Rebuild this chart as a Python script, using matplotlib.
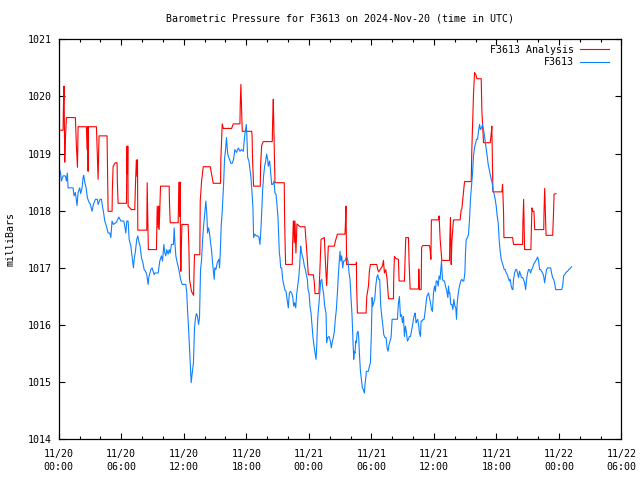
import numpy as np
import matplotlib
matplotlib.use("Agg")
from matplotlib import pyplot as plt
from matplotlib.ticker import MultipleLocator

# Hours since 2024-11-20 00:00 UTC
analysis_hours = [
    0.0, 0.42, 0.45, 0.51, 0.58, 0.64, 0.74, 1.6, 1.7, 1.8, 1.86, 2.66, 2.72, 2.78, 2.82, 2.85,
    3.62, 3.71, 3.78, 3.87, 4.64, 4.69, 4.74, 5.12, 5.15, 5.22, 5.35, 5.44, 5.6, 5.63, 5.7,
    6.5, 6.55, 6.6, 6.63, 6.66, 6.98, 7.3, 7.36, 7.45, 7.52, 7.56, 7.59, 8.45, 8.49, 8.55, 8.6,
    9.38, 9.42, 9.45, 9.55, 9.6, 9.64, 9.77, 10.6, 10.63, 10.7, 11.46, 11.5, 11.56, 11.62, 11.66,
    11.68, 11.72, 11.82, 12.42, 12.49, 12.55, 12.74, 12.94, 12.98, 13.03, 13.54, 13.58, 13.71,
    13.87, 14.54, 14.67, 14.83, 15.53, 15.56, 15.69, 15.79, 16.59, 16.75, 17.39, 17.42, 17.48,
    17.55, 17.61, 18.51, 18.55, 18.6, 18.7, 19.34, 19.37, 19.47, 19.63, 20.49, 20.53, 20.59,
    20.68, 20.75, 21.64, 21.68, 21.77, 22.41, 22.45, 22.51, 22.55, 22.6, 22.67, 22.76, 22.86,
    23.15, 23.63, 23.79, 23.95, 24.43, 24.53, 24.59, 24.97, 25.07, 25.17, 25.49, 25.58, 25.71,
    25.87, 26.45, 26.55, 26.74, 27.47, 27.52, 27.56, 27.63, 28.53, 28.57, 28.59, 28.66, 29.49,
    29.56, 29.72, 29.81, 29.91, 30.52, 30.61, 30.71, 30.84, 31.06, 31.16, 31.25, 31.38, 31.51,
    31.64, 32.12, 32.15, 32.21, 32.37, 32.6, 32.66, 33.17, 33.24, 33.3, 33.56, 33.62, 33.72,
    34.52, 34.55, 34.62, 34.78, 34.82, 34.9, 35.58, 35.64, 35.71, 35.76, 36.44, 36.5, 36.6,
    36.76, 37.5, 37.53, 37.59, 37.66, 37.72, 37.88, 38.52, 38.61, 38.68, 38.94, 39.58, 39.64,
    39.8, 39.9, 40.03, 40.12, 40.54, 40.6, 40.76, 41.4, 41.5, 41.56, 41.66, 42.52, 42.59, 42.68,
    42.72, 43.55, 43.64, 44.51, 44.54, 44.61, 44.65, 44.7, 45.31, 45.35, 45.41, 45.48, 45.6,
    45.67, 46.54, 46.57, 46.63, 46.7, 46.76, 47.4, 47.47, 47.53, 47.72,
]
analysis_mb = [
    1019.41, 1019.41, 1019.79, 1020.18, 1018.85, 1019.25, 1019.63, 1019.63, 1019.13, 1018.76,
    1019.47, 1019.47, 1019.07, 1019.47, 1018.69, 1019.47, 1019.47, 1018.93, 1018.55, 1019.31,
    1019.31, 1018.67, 1017.99, 1017.99, 1018.37, 1018.77, 1018.82, 1018.84, 1018.84, 1018.49,
    1018.13, 1018.13, 1019.13, 1018.64, 1019.13, 1018.08, 1018.02, 1018.02, 1018.43, 1018.89,
    1018.6, 1018.89, 1017.66, 1017.66, 1018.49, 1017.90, 1017.32, 1017.32, 1017.70, 1018.08,
    1017.7, 1018.08, 1017.67, 1018.43, 1018.43, 1018.13, 1017.79, 1017.79, 1018.14, 1018.50,
    1017.9, 1018.5, 1017.35, 1016.94, 1017.76, 1017.76, 1017.38, 1016.80, 1016.59, 1016.52,
    1016.88, 1017.23, 1017.23, 1018.17, 1018.52, 1018.77, 1018.77, 1018.64, 1018.48, 1018.48,
    1018.91, 1019.52, 1019.44, 1019.44, 1019.52, 1019.52, 1019.86, 1020.21, 1019.79, 1019.39,
    1019.39, 1019.34, 1018.90, 1018.43, 1018.43, 1018.78, 1019.14, 1019.21, 1019.21, 1019.59,
    1019.95, 1019.16, 1018.49, 1018.49, 1017.79, 1017.06, 1017.06, 1017.45, 1017.82, 1017.82,
    1017.44, 1017.82, 1017.26, 1017.77, 1017.72, 1017.72, 1017.32, 1016.88, 1016.88, 1016.74,
    1016.55, 1016.55, 1017.0, 1017.50, 1017.53, 1017.15, 1016.69, 1017.38, 1017.38, 1017.47,
    1017.59, 1017.59, 1017.82, 1018.08, 1017.06, 1017.06, 1017.1, 1016.65, 1016.21, 1016.21,
    1016.5, 1016.68, 1016.94, 1017.06, 1017.06, 1016.97, 1016.93, 1016.97, 1017.03, 1017.13,
    1016.91, 1016.97, 1016.8, 1016.46, 1016.46, 1016.85, 1017.2, 1017.16, 1017.15, 1016.77,
    1016.77, 1017.15, 1017.53, 1017.53, 1017.09, 1016.63, 1016.63, 1016.98, 1016.62, 1016.62,
    1017.35, 1017.39, 1017.39, 1017.32, 1017.15, 1017.84, 1017.84, 1017.91, 1017.5, 1017.13,
    1017.13, 1017.5, 1017.88, 1017.06, 1017.45, 1017.84, 1017.84, 1018.01, 1018.03, 1018.51,
    1018.51, 1019.07, 1020.04, 1020.42, 1020.38, 1020.31, 1020.31, 1019.76, 1019.19, 1019.19,
    1019.35, 1019.48, 1018.33, 1018.33, 1018.46, 1017.99, 1017.53, 1017.53, 1017.41, 1017.41,
    1017.79, 1018.2, 1017.79, 1017.32, 1017.32, 1017.68, 1018.05, 1017.99, 1017.99, 1017.67,
    1017.67, 1018.02, 1018.39, 1017.96, 1017.57, 1017.57, 1017.92, 1018.29, 1018.3,
]

station_hours = [
    0.0, 0.06, 0.19, 0.26, 0.42, 0.64, 0.74, 0.83, 0.9, 1.22, 1.38, 1.47, 1.6, 1.76, 1.86, 2.02,
    2.11, 2.24, 2.34, 2.4, 2.5, 2.63, 2.75, 2.88, 3.04, 3.2, 3.33, 3.52, 3.71, 3.78, 3.97, 4.1,
    4.19, 4.32, 4.42, 4.58, 4.74, 4.9, 5.0, 5.12, 5.25, 5.54, 5.77, 5.96, 6.24, 6.34, 6.44, 6.53,
    6.66, 6.76, 6.92, 7.04, 7.17, 7.24, 7.36, 7.49, 7.59, 7.68, 7.81, 7.94, 8.07, 8.2, 8.33,
    8.45, 8.58, 8.64, 8.84, 8.96, 9.16, 9.22, 9.54, 9.7, 9.86, 9.96, 10.09, 10.18, 10.28, 10.37,
    10.5, 10.6, 10.69, 10.82, 11.01, 11.08, 11.14, 11.24, 11.37, 11.46, 11.59, 11.69, 11.85,
    12.2, 12.29, 12.36, 12.45, 12.55, 12.65, 12.71, 12.81, 12.93, 13.03, 13.13, 13.22, 13.32,
    13.42, 13.51, 13.61, 13.7, 13.8, 13.9, 14.02, 14.12, 14.22, 14.28, 14.38, 14.47, 14.57,
    14.66, 14.76, 14.86, 14.92, 14.98, 15.08, 15.21, 15.37, 15.43, 15.5, 15.59, 15.69, 15.82,
    15.91, 16.01, 16.1, 16.2, 16.26, 16.39, 16.52, 16.65, 16.78, 16.9, 17.07, 17.23, 17.39,
    17.55, 17.71, 17.81, 17.9, 18.0, 18.06, 18.13, 18.25, 18.35, 18.45, 18.54, 18.64, 18.7,
    18.83, 18.96, 19.09, 19.22, 19.31, 19.41, 19.47, 19.57, 19.66, 19.76, 19.86, 19.95, 20.05,
    20.11, 20.24, 20.34, 20.43, 20.53, 20.66, 20.75, 20.85, 20.94, 21.04, 21.1, 21.17, 21.23,
    21.3, 21.39, 21.49, 21.62, 21.71, 21.81, 21.94, 22.03, 22.13, 22.23, 22.35, 22.45, 22.55,
    22.64, 22.74, 22.83, 22.93, 23.03, 23.12, 23.22, 23.28, 23.38, 23.47, 23.57, 23.67, 23.76,
    23.86, 23.92, 24.02, 24.11, 24.21, 24.31, 24.4, 24.5, 24.6, 24.69, 24.76, 24.82, 24.88,
    24.98, 25.04, 25.14, 25.24, 25.33, 25.43, 25.52, 25.65, 25.71, 25.81, 25.94, 26.06, 26.16,
    26.26, 26.35, 26.45, 26.54, 26.64, 26.74, 26.83, 26.93, 26.99, 27.06, 27.15, 27.25, 27.34,
    27.47, 27.57, 27.67, 27.76, 27.86, 27.95, 28.05, 28.15, 28.24, 28.31, 28.37, 28.43, 28.5,
    28.56, 28.63, 28.72, 28.79, 28.85, 28.95, 29.04, 29.14, 29.23, 29.33, 29.39, 29.46, 29.52,
    29.62, 29.71, 29.81, 29.91, 30.0, 30.07, 30.13, 30.23, 30.32, 30.42, 30.52, 30.61, 30.71,
    30.8, 30.9, 31.0, 31.09, 31.19, 31.31, 31.41, 31.51, 31.6, 31.7, 31.8, 31.89, 31.99, 32.08,
    32.27, 32.4, 32.5, 32.6, 32.69, 32.79, 32.89, 32.98, 33.08, 33.17, 33.27, 33.37, 33.46,
    33.56, 33.65, 33.75, 33.85, 33.94, 34.04, 34.13, 34.2, 34.29, 34.36, 34.45, 34.55, 34.61,
    34.71, 34.77, 34.87, 34.97, 35.06, 35.16, 35.25, 35.32, 35.41, 35.48, 35.57, 35.67, 35.77,
    35.86, 35.96, 36.06, 36.15, 36.22, 36.31, 36.41, 36.5, 36.6, 36.66, 36.73, 36.82, 36.92,
    37.02, 37.11, 37.21, 37.27, 37.34, 37.4, 37.46, 37.53, 37.62, 37.72, 37.82, 37.91, 38.01,
    38.1, 38.17, 38.23, 38.3, 38.39, 38.49, 38.58, 38.68, 38.78, 38.87, 38.97, 39.03, 39.1,
    39.23, 39.32, 39.42, 39.51, 39.61, 39.71, 39.8, 39.9, 40.01, 40.09, 40.19, 40.28, 40.38,
    40.47, 40.57, 40.67, 40.76, 40.83, 40.92, 41.02, 41.11, 41.21, 41.31, 41.4, 41.5, 41.59,
    41.69, 41.79, 41.88, 41.98, 42.07, 42.17, 42.27, 42.36, 42.46, 42.56, 42.65, 42.75, 42.84,
    42.94, 43.04, 43.13, 43.23, 43.32, 43.42, 43.52, 43.58, 43.64, 43.74, 43.84, 43.93, 44.03,
    44.12, 44.22, 44.32, 44.41, 44.51, 44.6, 44.7, 44.8, 44.89, 44.99, 45.08, 45.18, 45.28,
    45.37, 45.47, 45.56, 45.66, 45.76, 45.85, 45.95, 46.05, 46.14, 46.24, 46.33, 46.43, 46.53,
    46.62, 46.72, 46.81, 46.91, 47.01, 47.1, 47.2, 47.29, 47.39, 47.49, 47.58, 47.68, 47.81,
    47.97, 48.16, 48.26, 48.35, 48.45, 48.54, 48.64, 48.73, 48.83, 48.93, 49.02, 49.12, 49.21,
]
station_mb = [
    1018.87, 1018.75, 1018.64, 1018.52, 1018.61, 1018.61, 1018.52, 1018.66, 1018.40, 1018.40,
    1018.40, 1018.26, 1018.32, 1018.09, 1018.32, 1018.40, 1018.30, 1018.40, 1018.58, 1018.62,
    1018.50, 1018.40, 1018.23, 1018.16, 1018.11, 1017.99, 1018.11, 1018.20, 1018.20, 1018.11,
    1018.20, 1018.20, 1018.09, 1017.95, 1017.82, 1017.73, 1017.61, 1017.61, 1017.53, 1017.82,
    1017.76, 1017.80, 1017.89, 1017.82, 1017.82, 1017.73, 1017.61, 1017.82, 1017.82, 1017.50,
    1017.38, 1017.20, 1017.00, 1017.15, 1017.29, 1017.50, 1017.56, 1017.47, 1017.38, 1017.18,
    1017.10, 1016.97, 1016.94, 1016.88, 1016.71, 1016.83, 1016.97, 1017.00, 1016.88, 1016.91,
    1016.91, 1017.12, 1017.21, 1017.12, 1017.41, 1017.26, 1017.21, 1017.32, 1017.24, 1017.32,
    1017.26, 1017.41, 1017.41, 1017.70, 1017.47, 1017.21, 1017.09, 1017.03, 1016.91, 1016.80,
    1016.71, 1016.71, 1016.56, 1016.27, 1015.98, 1015.60, 1015.19, 1014.99, 1015.16, 1015.34,
    1015.95, 1016.13, 1016.20, 1016.15, 1016.01, 1016.13, 1016.97, 1017.12, 1017.47, 1017.73,
    1017.96, 1018.17, 1017.91, 1017.61, 1017.70, 1017.61, 1017.44, 1017.32, 1017.09, 1016.91,
    1016.80, 1017.00, 1016.97, 1017.09, 1017.15, 1017.00, 1017.26, 1017.73, 1017.99, 1018.46,
    1018.90, 1019.07, 1019.28, 1019.02, 1018.96, 1018.90, 1018.83, 1018.83, 1018.90, 1019.07,
    1019.02, 1019.10, 1019.04, 1019.07, 1019.04, 1019.25, 1019.39, 1019.51, 1019.28, 1018.93,
    1018.87, 1018.72, 1018.58, 1018.34, 1018.05, 1017.53, 1017.59, 1017.56, 1017.56, 1017.53,
    1017.41, 1017.70, 1017.96, 1018.37, 1018.61, 1018.78, 1018.87, 1018.99, 1018.90, 1018.78,
    1018.87, 1018.67, 1018.46, 1018.46, 1018.52, 1018.31, 1018.29, 1018.11, 1017.88, 1017.61,
    1017.26, 1017.18, 1017.00, 1017.00, 1016.80, 1016.68, 1016.61, 1016.59, 1016.42, 1016.30,
    1016.56, 1016.59, 1016.56, 1016.50, 1016.33, 1016.39, 1016.30, 1016.53, 1016.68, 1016.83,
    1017.03, 1017.38, 1017.29, 1017.21, 1017.15, 1017.03, 1016.97, 1016.88, 1016.80, 1016.62,
    1016.56, 1016.33, 1016.21, 1015.98, 1015.78, 1015.63, 1015.51, 1015.40, 1015.63, 1015.98,
    1016.18, 1016.39, 1016.53, 1016.77, 1016.80, 1016.65, 1016.53, 1016.33, 1016.21, 1015.69,
    1015.78, 1015.80, 1015.72, 1015.60, 1015.72, 1015.78, 1015.89, 1016.10, 1016.27, 1016.56,
    1016.86, 1017.15, 1017.29, 1017.12, 1017.21, 1017.00, 1017.12, 1017.12, 1017.18, 1017.18,
    1017.12, 1016.91, 1016.80, 1016.48, 1016.15, 1015.69, 1015.40, 1015.54, 1015.51, 1015.72,
    1015.69, 1015.86, 1015.89, 1015.78, 1015.51, 1015.19, 1015.05, 1014.90, 1014.87, 1014.81,
    1014.96, 1015.07, 1015.19, 1015.19, 1015.19, 1015.28, 1015.34, 1015.86, 1016.48, 1016.33,
    1016.39, 1016.45, 1016.68, 1016.83, 1016.88, 1016.80, 1016.80, 1016.33, 1016.15, 1016.01,
    1015.83, 1015.78, 1015.78, 1015.60, 1015.54, 1015.66, 1015.72, 1015.78, 1016.10, 1016.10,
    1016.10, 1016.10, 1016.10, 1016.39, 1016.50, 1016.15, 1016.18, 1016.04, 1016.15, 1015.80,
    1015.98, 1015.86, 1015.72, 1015.75, 1015.80, 1015.80, 1015.89, 1015.98, 1016.10, 1016.18,
    1016.21, 1016.04, 1016.07, 1016.10, 1015.98, 1015.86, 1015.80, 1016.07, 1016.07, 1016.10,
    1016.10, 1016.24, 1016.39, 1016.50, 1016.53, 1016.56, 1016.48, 1016.39, 1016.27, 1016.24,
    1016.56, 1016.68, 1016.59, 1016.77, 1016.77, 1016.68, 1016.86, 1016.80, 1016.97, 1017.12,
    1016.80, 1016.77, 1016.77, 1016.68, 1016.62, 1016.56, 1016.48, 1016.68, 1016.56, 1016.56,
    1016.36, 1016.36, 1016.27, 1016.45, 1016.33, 1016.30, 1016.10, 1016.36, 1016.50, 1016.62,
    1016.71, 1016.77, 1016.80, 1016.77, 1016.77, 1016.91, 1017.26, 1017.50, 1017.53, 1017.59,
    1017.85, 1018.20, 1018.43, 1018.67, 1018.96, 1019.10, 1019.19, 1019.25, 1019.25, 1019.39,
    1019.51, 1019.42, 1019.45, 1019.51, 1019.42, 1019.34, 1019.22, 1019.10, 1018.96, 1018.81,
    1018.72, 1018.64, 1018.55, 1018.49, 1018.34, 1018.29, 1018.20, 1018.08, 1017.91, 1017.79,
    1017.47, 1017.29, 1017.15, 1017.09, 1017.03, 1016.97, 1016.97, 1016.91, 1016.88, 1016.83,
    1016.77, 1016.80, 1016.68, 1016.62, 1016.62, 1016.80, 1016.91, 1016.97, 1016.97, 1016.91,
    1016.83, 1016.94, 1016.88, 1016.83, 1016.83, 1016.80, 1016.74, 1016.62, 1016.80, 1016.91,
    1016.97, 1016.97, 1016.91, 1016.97, 1017.00, 1017.06, 1017.09, 1017.12, 1017.15, 1017.19,
    1017.12, 1016.97, 1016.97, 1016.94, 1016.91, 1016.86, 1016.74, 1016.86, 1016.97, 1017.00,
    1017.00, 1017.00, 1017.00, 1016.91, 1016.83, 1016.80, 1016.74, 1016.62, 1016.62, 1016.62,
    1016.62, 1016.62, 1016.68, 1016.86, 1016.88, 1016.91, 1016.93, 1016.94, 1016.97, 1016.98,
    1017.00, 1017.02,
]

tick_hours = [0, 6, 12, 18, 24, 30, 36, 42, 48, 54]
tick_labels = ["11/20\n00:00", "11/20\n06:00", "11/20\n12:00", "11/20\n18:00",
               "11/21\n00:00", "11/21\n06:00", "11/21\n12:00", "11/21\n18:00",
               "11/22\n00:00", "11/22\n06:00"]

plt.rcParams['font.family'] = ['DejaVu Sans Mono']
plt.rcParams['font.size'] = 7.2

fig = plt.figure(figsize=(6.4, 4.8), dpi=100)
ax = fig.add_axes([58.7 / 640, 1 - 439.3 / 480, (621.5 - 58.7) / 640, 400 / 480])

ax.plot(analysis_hours, analysis_mb, color='#ff0000', lw=0.8, label='F3613 Analysis')
ax.plot(station_hours, station_mb, color='#1080ff', lw=0.8, label='F3613')

ax.set_xlim(0, 54)
ax.set_ylim(1014, 1021)
ax.set_xticks(tick_hours)
ax.set_xticklabels(tick_labels)
for lab in ax.get_xticklabels():
    lab.set_linespacing(1.35)
ax.xaxis.set_minor_locator(MultipleLocator(2))
ax.set_yticks(range(1014, 1022))

ax.tick_params(which='both', direction='in', top=True, right=True, width=0.8, colors='black')
ax.tick_params(which='major', length=4.5)
ax.tick_params(axis='x', which='major', pad=7)
ax.tick_params(axis='y', which='major', pad=5)
ax.tick_params(which='minor', length=2.5)
for s in ax.spines.values():
    s.set_linewidth(0.9)

ax.set_title("Barometric Pressure for F3613 on 2024-Nov-20 (time in UTC)", fontsize=7.2, pad=13)
ax.set_ylabel("milliBars", labelpad=9)

ax.legend(loc='upper right', bbox_to_anchor=(1 - 12.5 / 562.8, 1 - 5.5 / 400),
          frameon=False, markerfirst=False, handlelength=2.9, handletextpad=0.6,
          labelspacing=0.25, borderaxespad=0, borderpad=0)

fig.savefig("out.png", dpi=100)
